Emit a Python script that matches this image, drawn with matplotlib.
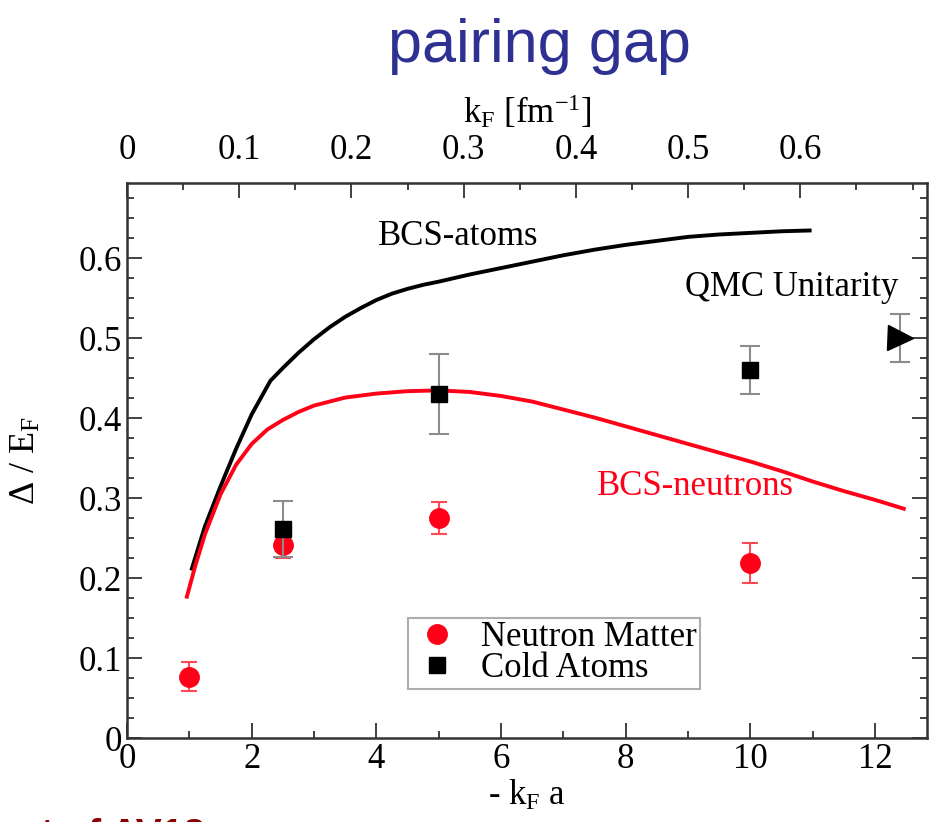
import matplotlib
import numpy as np

matplotlib.use("Agg")
import matplotlib.pyplot as plt
from matplotlib.lines import Line2D
from matplotlib.ticker import FixedLocator, FuncFormatter, MultipleLocator

plt.rcParams["font.family"] = ["Liberation Serif", "DejaVu Serif"]
plt.rcParams["mathtext.fontset"] = "custom"
plt.rcParams["mathtext.rm"] = "Liberation Serif"
plt.rcParams["mathtext.it"] = "Liberation Serif:italic"

# BCS curves
bcs_atoms_x = [1.04, 1.25, 1.50, 1.75, 2.00, 2.30, 2.50, 2.75, 3.00, 3.25,
               3.50, 3.75, 4.00, 4.25, 4.50, 4.75, 5.00, 5.50, 6.00, 6.50,
               7.00, 7.50, 8.00, 8.50, 9.00, 9.50, 10.00, 10.50, 10.95]
bcs_atoms_y = [0.212, 0.265, 0.315, 0.362, 0.405, 0.447, 0.463, 0.482, 0.499, 0.514,
               0.527, 0.538, 0.548, 0.556, 0.562, 0.567, 0.571, 0.580, 0.588, 0.596,
               0.604, 0.611, 0.617, 0.622, 0.627, 0.630, 0.632, 0.634, 0.635]

bcs_neut_x = [0.96, 1.10, 1.25, 1.50, 1.75, 2.00, 2.25, 2.50, 2.75, 3.00,
              3.50, 4.00, 4.50, 5.00, 5.50, 6.00, 6.50, 7.00, 7.50, 8.00,
              8.50, 9.00, 9.50, 10.00, 10.50, 11.00, 11.50, 12.00, 12.46]
bcs_neut_y = [0.177, 0.217, 0.255, 0.305, 0.342, 0.368, 0.386, 0.398, 0.408, 0.416,
              0.426, 0.431, 0.434, 0.435, 0.433, 0.428, 0.421, 0.411, 0.401, 0.390,
              0.379, 0.368, 0.357, 0.346, 0.334, 0.321, 0.309, 0.298, 0.287]

# QMC results
neutron_x = [1.0, 2.5, 5.0, 10.0]
neutron_y = [0.077, 0.242, 0.275, 0.219]
neutron_err = [0.018, 0.017, 0.02, 0.025]

atoms_x = [2.5, 5.0, 10.0]
atoms_y = [0.262, 0.43, 0.46]
atoms_err = [0.035, 0.05, 0.03]

unitarity_x = [12.4]
unitarity_y = [0.50]
unitarity_err = [0.03]

kf_ticks = [0, 0.1, 0.2, 0.3, 0.4, 0.5, 0.6]
y_ticks = [0, 0.1, 0.2, 0.3, 0.4, 0.5, 0.6]
kf_scale = 18.0  # -kF a = kF * |a|

red = "#ff0018"

fig = plt.figure(figsize=(9.34, 8.22), dpi=100)
ax = fig.add_axes([0.136, 0.102, 0.857, 0.675])

ax.plot(bcs_atoms_x, bcs_atoms_y, "-", color="black", lw=2.8)
ax.plot(bcs_neut_x, bcs_neut_y, "-", color=red, lw=2.8)

ax.errorbar(neutron_x, neutron_y, yerr=neutron_err, fmt="o", color=red,
            ms=14, ecolor="#ff4a55", elinewidth=1.5, capsize=6, capthick=1.5, zorder=4)
ax.errorbar(atoms_x, atoms_y, yerr=atoms_err, fmt="s", color="black",
            ms=12, ecolor="#8c8c8c", elinewidth=1.5, capsize=7, capthick=1.5, zorder=5)
ax.errorbar(unitarity_x, unitarity_y, yerr=unitarity_err, fmt=">", color="black",
            ms=18, ecolor="#8c8c8c", elinewidth=1.5, capsize=7, capthick=1.5, zorder=5)

ax.text(4.03, 0.617, "BCS-atoms", fontsize=25, color="black")
ax.text(8.95, 0.553, "QMC Unitarity", fontsize=25, color="black")
ax.text(7.54, 0.304, "BCS-neutrons", fontsize=25, color=red)

ax.set_xlim(0, 12.84)
ax.set_ylim(0, 0.694)

fmt = FuncFormatter(lambda v, p: f"{v:g}")
ax.xaxis.set_major_locator(MultipleLocator(2))
ax.xaxis.set_minor_locator(MultipleLocator(1))
ax.yaxis.set_major_locator(FixedLocator(y_ticks))
ax.yaxis.set_minor_locator(MultipleLocator(0.025))
ax.yaxis.set_major_formatter(fmt)
ax.tick_params(which="both", direction="in", right=True, top=False,
               width=1.3, color="#333333", labelsize=25)
ax.tick_params(which="major", length=11)
ax.tick_params(which="minor", length=5)
for s in ax.spines.values():
    s.set_linewidth(1.8)
    s.set_color("#333333")

ax.set_xlabel("- k$_\\mathrm{F}$ a", fontsize=25, labelpad=2)
ax.set_ylabel("$\\Delta$ / E$_\\mathrm{F}$", fontsize=26, labelpad=26)

top = ax.secondary_xaxis("top", functions=(lambda x: x / kf_scale, lambda k: k * kf_scale))
top.xaxis.set_major_locator(FixedLocator(kf_ticks))
top.xaxis.set_minor_locator(MultipleLocator(0.05))
top.xaxis.set_major_formatter(fmt)
top.tick_params(which="both", direction="in", width=1.3, color="#333333",
                labelsize=25, pad=12)
top.tick_params(which="major", length=11)
top.tick_params(which="minor", length=5)
top.set_xlabel("k$_\\mathrm{F}$ [fm$^\\mathrm{-1}$]", fontsize=25, labelpad=8)

handles = [
    Line2D([], [], ls="none", marker="o", ms=14, color=red),
    Line2D([], [], ls="none", marker="s", ms=12, color="black"),
]
leg = ax.legend(handles, ["Neutron Matter", "Cold Atoms"], loc="lower left",
                bbox_to_anchor=(0.351, 0.089), fontsize=25, frameon=True,
                fancybox=False, labelspacing=-0.05, handletextpad=0.5,
                borderpad=0.1, borderaxespad=0, handlelength=1.5)
leg.get_frame().set_edgecolor("#999999")
leg.get_frame().set_linewidth(1.5)

fig.text(0.578, 0.978, "pairing gap", fontsize=44, color="#2e3192",
         family="Liberation Sans", ha="center", va="top")
fig.text(0.018, 0.005, "nt of AV18", fontsize=28, color="#8b0000",
         family="Liberation Sans", weight="bold", ha="left", va="top")

fig.savefig("out.png", dpi=100)
